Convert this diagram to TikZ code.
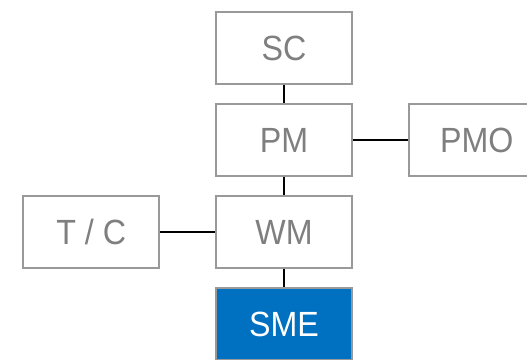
\documentclass[tikz,border=0pt]{standalone}
\usepackage{fontspec}
\setmainfont{Liberation Sans}[FakeStretch=0.92]
\usetikzlibrary{positioning}
\definecolor{boxgray}{HTML}{999999}
\definecolor{textgray}{HTML}{7F7F7F}
\definecolor{smeblue}{HTML}{0070C0}
\tikzset{
    role/.style={
        draw=boxgray, line width=1.8pt, rectangle, minimum width=136pt, minimum height=71.5pt, inner sep=0pt, fill=white, text=textgray, font=\fontsize{35}{35}\selectfont
    },
    focus/.style={
        role, fill=smeblue, text=white
    },
    link/.style={
        line width=2.5pt, black
    }
}
\begin{document}
\begin{tikzpicture}[x=1pt, y=1pt, node distance=18.7pt and 55pt]
    \useasboundingbox (0,0) rectangle (527,359);
    \clip (0,0) rectangle (527,359);

    % boxes
    \node (sc) [role] at (284,311) {SC};
    \node (pm) [role, below=of sc] {PM};
    \node (pmo) [role, right=of pm] {PMO};
    \node (wm) [role, below=of pm] {WM};
    \node (tc) [role, left=of wm] {T / C};
    \node (sme) [focus, below=of wm] {SME};

    % links
    \draw [link] (sc) -- (pm);
    \draw [link] (pm) -- (pmo);
    \draw [link] (pm) -- (wm);
    \draw [link] (tc) -- (wm);
    \draw [link] (wm) -- (sme);

\end{tikzpicture}
\end{document}
